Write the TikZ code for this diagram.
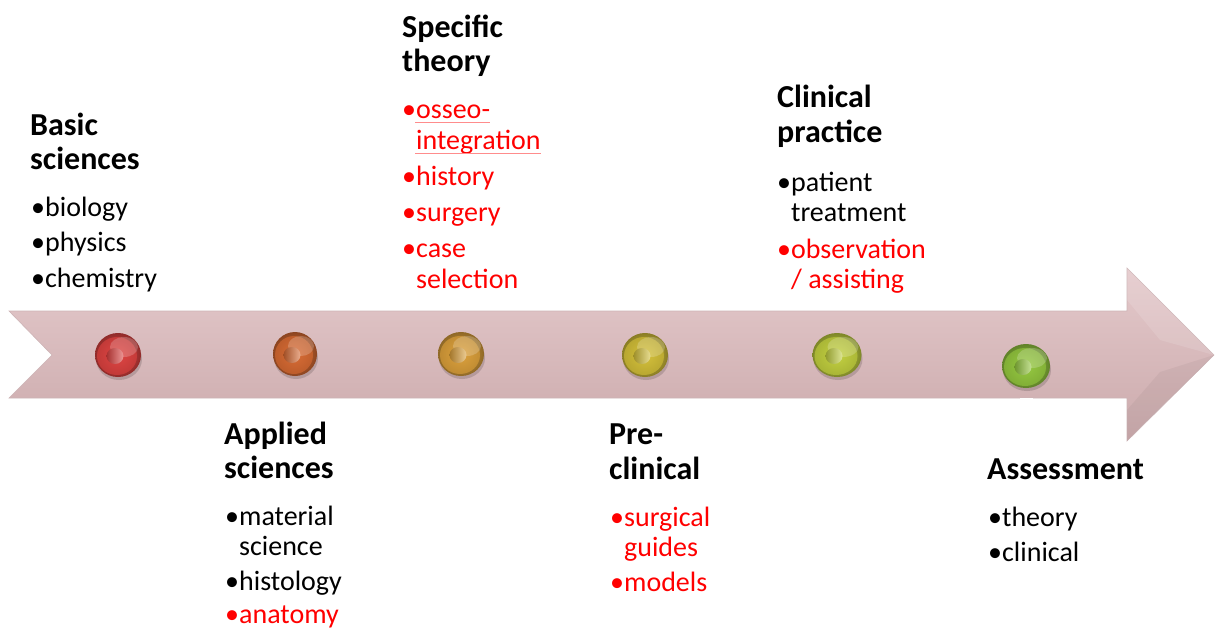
\documentclass[tikz,border=0pt]{standalone}
\usepackage{fontspec}
\setmainfont{Carlito}
\usetikzlibrary{calc}
\definecolor{arrtop}{RGB}{228,201,203}
\definecolor{arrbot}{RGB}{203,170,172}
\definecolor{arredge}{RGB}{205,180,182}
\definecolor{cA}{RGB}{222,66,64}
\definecolor{cB}{RGB}{216,106,50}
\definecolor{cC}{RGB}{220,160,58}
\definecolor{cD}{RGB}{212,192,56}
\definecolor{cE}{RGB}{194,208,62}
\definecolor{cF}{RGB}{148,200,62}
\newcommand{\bul}{\textbullet}
\tikzset{
  hd/.style={anchor=base west, inner sep=0pt, font=\fontsize{32}{35}\selectfont\bfseries},
  it/.style={anchor=base west, inner sep=0pt, font=\fontsize{28}{30}\selectfont},
  rd/.style={it, text=red},
  ul/.style={draw=red!45, line width=0.8pt},
  ballshadow/.style={fill=black, opacity=0.15},
}
\newcommand{\ball}[5]{% name, x, y, colour, rx
  \fill[ballshadow] (#2+1,#3+4) ellipse [x radius=#5, y radius=21];
  \shade[inner color=#4!95!white, outer color=#4!65!black] (#2,#3) ellipse [x radius=#5, y radius=22];
  \fill[#4, opacity=0.6] (#2-1,#3+1) ellipse [x radius=#5-3, y radius=19];
  \fill[white, opacity=0.2] (#2+6,#3-8) ellipse [x radius=#5-9, y radius=10];
  \shade[left color=#4!75!black, right color=#4!55!white] (#2-3,#3+1) ellipse [x radius=8.5, y radius=8];
  \coordinate (#1) at (#2,#3);
}
\begin{document}
\begin{tikzpicture}[x=1pt, y=-1pt]
\useasboundingbox (0,0) rectangle (1221,630);
% arrow
\shade[top color=arrtop, bottom color=arrbot, draw=arredge, line width=0.6pt]
  (9,311) -- (1127,311) -- (1127,268) -- (1214,355) -- (1127,441) -- (1127,398)
  -- (9,398) -- (52,355) -- cycle;
\fill[white, opacity=0.12] (1127,268) -- (1214,355) -- (1160,340) -- (1127,300) -- cycle;
\fill[black, opacity=0.04] (1127,441) -- (1214,355) -- (1160,372) -- (1127,410) -- cycle;
\fill[white] (1020,398) rectangle (1033,403);
% balls
\ball{b1}{118}{355}{cA}{23}
\ball{b2}{295}{354}{cB}{22}
\ball{b3}{461}{354}{cC}{23}
\ball{b4}{645}{355}{cD}{23}
\ball{b5}{837}{355}{cE}{24.5}
\ball{b6}{1026}{366}{cF}{24}
% Basic sciences
\node[hd] (bs1) at (30,135) {Basic};
\node[hd] (bs2) at (30,169) {sciences};
\node[it] (bs3) at (31,216) {\bul biology};
\node[it] (bs4) at (31,251) {\bul physics};
\node[it] (bs5) at (31,287) {\bul chemistry};
% Applied sciences
\node[hd] (as1) at (224,444) {Applied};
\node[hd] (as2) at (224,478) {sciences};
\node[it] (as3) at (225,525) {\bul material};
\node[it] (as4) at (225,555) {\phantom{\bul}science};
\node[it] (as5) at (225,590) {\bul histology};
\node[rd] (as6) at (225,623) {\bul anatomy};
% Specific theory
\node[hd] (st1) at (402,37) {Specific};
\node[hd] (st2) at (402,71) {theory};
\node[rd] (st3) at (402,118) {\bul osseo-};
\node[rd] (st4) at (402,149) {\phantom{\bul}integration};
\node[rd] (st5) at (402,185) {\bul history};
\node[rd] (st6) at (402,221) {\bul surgery};
\node[rd] (st7) at (402,257) {\bul case};
\node[rd] (st8) at (402,288) {\phantom{\bul}selection};
\draw[ul] ($(st3.base west)+(13,4)$) -- ($(st3.base east)+(0,4)$);
\draw[ul] ($(st4.base west)+(13,4)$) -- ($(st4.base east)+(0,4)$);
% Clinical practice
\node[hd] (cp1) at (777,107) {Clinical};
\node[hd] (cp2) at (777,142) {practice};
\node[it] (cp3) at (777,191) {\bul patient};
\node[it] (cp4) at (777,221) {\phantom{\bul}treatment};
\node[rd] (cp5) at (777,258) {\bul observation};
\node[rd] (cp6) at (777,288) {\phantom{\bul}/ assisting};
% Pre-clinical
\node[hd] (pc1) at (609,444) {Pre-};
\node[hd] (pc2) at (609,479) {clinical};
\node[rd] (pc3) at (610,526) {\bul surgical};
\node[rd] (pc4) at (610,556) {\phantom{\bul}guides};
\node[rd] (pc5) at (610,591) {\bul models};
% Assessment
\node[hd] (ap1) at (987,479) {Assessment};
\node[it] (ap2) at (988,526) {\bul theory};
\node[it] (ap3) at (988,561) {\bul clinical};
\end{tikzpicture}
\end{document}
